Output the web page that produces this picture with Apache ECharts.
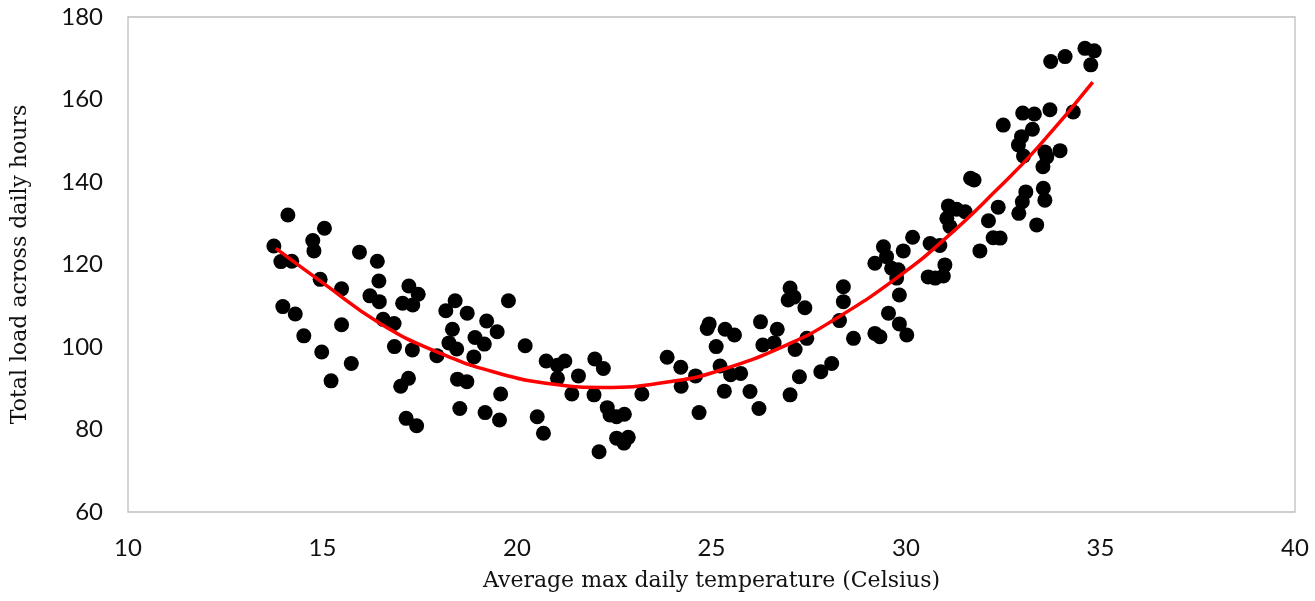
<!DOCTYPE html>
<html lang="en">
<head>
    <meta charset="UTF-8">
    <title>Load vs temperature</title>
    <script src="https://cdn.jsdelivr.net/npm/echarts@6/dist/echarts.min.js"></script>
    <style>
        html, body { margin: 0; padding: 0; background: #fff; }
    </style>
</head>
<body>
    <div id="chart" style="width:1315px;height:601px;"></div>
    <script>
        // daily points: max temperature (x) and total load (y)
        var tempX = [
            14.11, 15.05, 13.75, 14.75, 14.78, 13.93, 14.21, 15.95, 16.41, 14.94,
            15.49, 16.45, 16.22, 16.46, 17.22, 17.46, 17.06, 17.32, 13.98, 14.30,
            15.49, 16.56, 16.84, 14.52, 14.98, 15.74, 15.22, 16.85, 17.31, 17.94,
            17.21, 17.01, 17.15, 17.42, 18.41, 18.17, 18.72, 19.78, 19.22, 19.49,
            18.34, 18.25, 18.45, 18.92, 19.16, 18.89, 20.21, 18.47, 18.71, 19.58,
            18.53, 19.18, 19.55,
            20.75, 21.04, 21.23, 21.04, 21.58, 21.41, 22.00, 22.22, 21.98, 20.52,
            20.68, 22.32, 22.39, 22.56, 22.76, 22.56, 22.86, 22.75, 22.11, 23.21,
            23.86, 24.21, 24.22, 24.59, 24.68, 24.94, 24.89, 25.12, 25.35, 25.59,
            25.22, 25.49, 25.75, 25.33, 25.99, 26.22, 26.26, 26.32, 26.61, 26.69,
            27.02, 26.97, 27.02, 27.12,
            31.66, 31.75, 33.08, 32.99, 32.90, 33.52, 33.62, 33.53, 33.57, 33.36,
            32.37, 32.12, 32.24, 32.42, 31.90, 31.09, 31.30, 31.52, 31.05, 31.13,
            30.17, 30.62, 30.87, 29.42, 29.50, 29.93, 29.20, 29.63, 29.80, 29.76,
            31.00, 30.57, 30.75, 30.96, 29.83, 28.39, 28.39, 27.40, 29.55, 28.29,
            29.83, 30.02, 29.20, 29.33, 28.65, 27.45, 27.15, 28.09, 27.81, 27.26,
            33.72, 34.09, 34.60, 34.84, 34.75, 32.50, 33.00, 33.30, 33.70, 34.30,
            33.25, 32.97, 32.89, 33.02, 33.57, 33.96
        ];
        var loadY = [
            132.0, 128.8, 124.5, 125.8, 123.3, 120.7, 120.8, 123.0, 120.8, 116.4,
            114.1, 116.0, 112.4, 111.0, 114.8, 112.8, 110.6, 110.2, 109.8, 108.0,
            105.4, 106.7, 105.7, 102.7, 98.8, 96.0, 91.8, 100.1, 99.3, 97.9,
            92.4, 90.5, 82.7, 80.9, 111.2, 108.8, 108.2, 111.2, 106.3, 103.7,
            104.3, 101.0, 99.5, 102.3, 100.7, 97.6, 100.3, 92.2, 91.6, 88.6,
            85.1, 84.1, 82.3,
            96.6, 95.6, 96.6, 92.4, 93.0, 88.6, 97.1, 94.8, 88.4, 83.1,
            79.1, 85.3, 83.5, 83.1, 83.7, 77.9, 78.1, 76.7, 74.6, 88.6,
            97.5, 95.1, 90.5, 93.0, 84.1, 105.6, 104.5, 100.1, 104.3, 102.9,
            95.4, 93.3, 93.6, 89.3, 89.2, 85.1, 106.1, 100.5, 101.0, 104.3,
            114.3, 111.4, 88.4, 112.1,
            140.9, 140.5, 137.6, 135.2, 132.4, 143.7, 146.1, 138.5, 135.6, 129.6,
            133.9, 130.6, 126.5, 126.4, 123.3, 134.2, 133.4, 132.8, 131.2, 129.2,
            126.6, 125.1, 124.6, 124.3, 121.9, 123.3, 120.3, 119.1, 118.7, 116.7,
            119.9, 117.0, 116.7, 117.2, 112.6, 114.6, 111.0, 109.5, 108.2, 106.4,
            105.6, 102.9, 103.3, 102.5, 102.1, 102.1, 99.4, 96.0, 94.0, 92.8,
            169.2, 170.4, 172.4, 171.8, 168.4, 153.8, 156.7, 156.5, 157.5, 157.0,
            152.8, 151.0, 149.0, 146.3, 147.3, 147.6
        ];

        // red trend curve
        var trendX = [13.8, 15, 16.5, 18, 19.5, 21, 22.2, 24, 25.2, 27, 28.2, 29.8, 31, 32.3, 33.4, 34.8];
        var trendY = [123.9, 115.6, 105.6, 98.6, 93.7, 90.9, 90.2, 91.7, 94.3, 100.8, 106.9, 117.0, 126.2, 137.8, 148.5, 164.2];

        var points = [];
        for (var i = 0; i < tempX.length; i++) {
            points.push([tempX[i], loadY[i]]);
        }
        var trend = [];
        for (var j = 0; j < trendX.length; j++) {
            trend.push([trendX[j], trendY[j]]);
        }

        var chart = echarts.init(document.getElementById("chart"));

        var option = {
            animation: false,
            grid: {
                left: 128, right: 20, top: 17, bottom: 89,
                show: true, borderColor: '#bfbfbf', borderWidth: 1.3
            },
            xAxis: {
                type: 'value',
                min: 10, max: 40, interval: 5,
                name: 'Average max daily temperature (Celsius)',
                nameLocation: 'middle',
                nameGap: 58,
                nameTextStyle: { fontFamily: 'DejaVu Serif', fontSize: 22, color: '#111' },
                axisLine: { show: false },
                axisTick: { show: false },
                splitLine: { show: false },
                axisLabel: { fontFamily: 'Lato', fontSize: 24, color: '#111', margin: 24 }
            },
            yAxis: {
                type: 'value',
                min: 60, max: 180, interval: 20,
                name: 'Total load across daily hours',
                nameLocation: 'middle',
                nameGap: 97,
                nameTextStyle: { fontFamily: 'DejaVu Serif', fontSize: 22, color: '#111' },
                axisLine: { show: false },
                axisTick: { show: false },
                splitLine: { show: false },
                axisLabel: { fontFamily: 'Lato', fontSize: 24, color: '#111', margin: 25 }
            },
            series: [
                {
                    type: 'scatter',
                    data: points,
                    symbolSize: 15,
                    itemStyle: { color: '#000', opacity: 1 }
                },
                {
                    type: 'line',
                    data: trend,
                    smooth: true,
                    showSymbol: false,
                    lineStyle: { color: '#ff0000', width: 3.5 },
                    z: 3
                }
            ]
        };

        chart.setOption(option);
    </script>
</body>
</html>
